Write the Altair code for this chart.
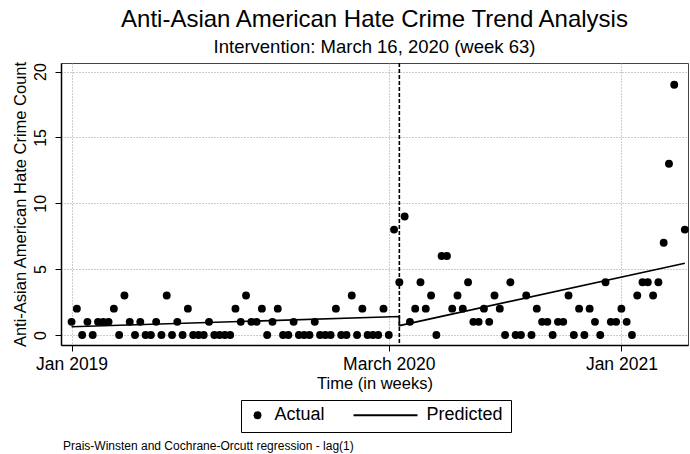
import altair as alt
import pandas as pd

# ---------------- data ----------------
WEEKS = list(range(1, 118))
COUNTS = [
    1, 2, 0, 1, 0, 1, 1, 1, 2, 0,        # w1-10
    3, 1, 0, 1, 0, 0, 1, 0, 3, 0,        # w11-20
    1, 0, 2, 0, 0, 0, 1, 0, 0, 0,        # w21-30
    0, 2, 1, 3, 1, 1, 2, 0, 1, 2,        # w31-40
    0, 0, 1, 0, 0, 0, 1, 0, 0, 0,        # w41-50
    2, 0, 0, 3, 0, 2, 0, 0, 0, 2,        # w51-60
    0, 8, 4, 9, 1, 2, 4, 2, 3, 0,        # w61-70
    6, 6, 2, 3, 2, 4, 1, 1, 2, 1,        # w71-80
    3, 2, 0, 4, 0, 0, 3, 0, 2, 1,        # w81-90
    1, 0, 1, 1, 3, 0, 2, 0, 2, 1,        # w91-100
    0, 4, 1, 1, 2, 1, 0, 3, 4, 4,        # w101-110
    3, 4, 7, 13, 19, None, 8,            # w111-117
]
PRED_WEEKS = [1, 63, 63, 117]
PRED_VALUES = [0.62, 1.40, 0.71, 5.45]
PRED_ORDER = [0, 1, 2, 3]
INTERVENTION_WEEK = [63]
TICK_WEEKS = [1, 61, 105]
TICK_LABELS = ["Jan 2019", "March 2020", "Jan 2021"]
Y_TICKS = [0, 5, 10, 15, 20]
SERIES = ["Actual", "Predicted"]
TITLE = "Anti-Asian American Hate Crime Trend Analysis"
SUBTITLE = "Intervention: March 16, 2020 (week 63)"
X_TITLE = "Time (in weeks)"
Y_TITLE = "Anti-Asian American Hate Crime Count"
NOTE = ["Prais-Winsten and Cochrane-Orcutt regression - lag(1)"]

FONT = "Liberation Sans"

actual = pd.DataFrame({"week": WEEKS, "count": COUNTS})
actual = actual.dropna().assign(series="Actual")
pred = pd.DataFrame({"week": PRED_WEEKS, "count": PRED_VALUES, "order": PRED_ORDER})
interv = pd.DataFrame({"week": INTERVENTION_WEEK})
note = pd.DataFrame({"note": NOTE})

label_expr = " : ".join(
    f"datum.value == {w} ? '{l}'" for w, l in zip(TICK_WEEKS[:-1], TICK_LABELS[:-1])
) + f" : '{TICK_LABELS[-1]}'"

x_scale = alt.Scale(domain=[-1.0, 117.6], nice=False, zero=False)
y_scale = alt.Scale(domain=[-0.76, 20.65], nice=False, zero=False)

x_enc = alt.X(
    "week:Q",
    scale=x_scale,
    axis=alt.Axis(
        values=TICK_WEEKS,
        labelExpr=label_expr,
        title=X_TITLE,
        labelFontSize=17.5,
        titleFontSize=16.5,
        labelPadding=4,
        titlePadding=3,
        labelFlush=False,
    ),
)
y_enc = alt.Y(
    "count:Q",
    scale=y_scale,
    axis=alt.Axis(
        values=Y_TICKS,
        title=Y_TITLE,
        labelAngle=270,
        labelAlign="center",
        labelBaseline="bottom",
        labelFontSize=16,
        titleFontSize=16.5,
        labelPadding=7,
        titlePadding=4,
    ),
)

CIRCLE = "circle"
BAR_PATH = "M-1,-0.034H1V0.034H-1Z"

points = alt.Chart(actual).mark_point(filled=True, opacity=1).encode(
    x=x_enc,
    y=y_enc,
    color=alt.Color("series:N", scale=alt.Scale(domain=SERIES, range=["black", "black"]),
                    legend=alt.Legend(
                        title=None,
                        orient="none",
                        legendX=180,
                        legendY=337,
                        direction="horizontal",
                        clipHeight=15,
                        labelFontSize=18,
                        labelFont=FONT,
                        labelColor="black",
                        labelOffset=8,
                        columnPadding=27,
                        padding=7.5,
                        strokeColor="black",
                        fillColor="white",
                        cornerRadius=0,
                    )),
    shape=alt.Shape("series:N", scale=alt.Scale(domain=SERIES, range=[CIRCLE, BAR_PATH])),
    size=alt.Size("series:N", scale=alt.Scale(type="ordinal", domain=SERIES, range=[62, 4096])),
)

line = alt.Chart(pred).mark_line(color="black", strokeWidth=1.6).encode(
    x="week:Q", y="count:Q", order="order:Q"
)

rule = alt.Chart(interv).mark_rule(color="black", strokeDash=[4, 2], strokeWidth=1.6).encode(
    x="week:Q"
)

note_text = alt.Chart(note).mark_text(
    align="left", baseline="middle", fontSize=12, font=FONT, color="black"
).encode(
    text="note:N", x=alt.value(2), y=alt.value(383)
)

chart = alt.layer(rule, line, points, note_text).properties(
    width=627,
    height=282,
    padding={"left": 61, "top": 63, "right": 2, "bottom": 109},
    autosize=alt.AutoSizeParams(type="none"),
    title=alt.Title(
        TITLE,
        subtitle=SUBTITLE,
        anchor="middle",
        frame="group",
        font=FONT,
        subtitleFont=FONT,
        fontSize=24,
        subtitleFontSize=18.5,
        fontWeight="normal",
        color="black",
        subtitleColor="black",
        offset=4,
        subtitlePadding=6,
    ),
).configure(
    background="white",
).configure_view(
    stroke="#444444", strokeWidth=1
).configure_axis(
    labelFont=FONT,
    titleFont=FONT,
    labelColor="black",
    titleColor="black",
    titleFontWeight="normal",
    domainColor="black",
    domainWidth=1.5,
    tickColor="black",
    tickSize=6,
    tickWidth=1,
    gridColor="#9a9a9a",
    gridDash=[1, 2],
    gridWidth=1,
)

chart.save("out.html", embed_options={"renderer": "svg", "actions": False})
